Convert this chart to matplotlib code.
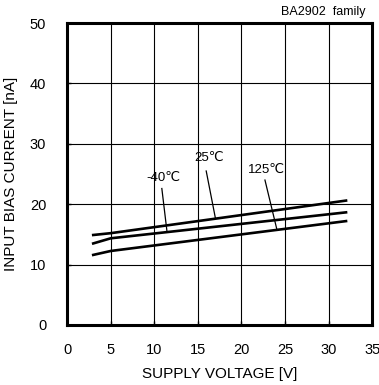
import numpy as np
from matplotlib import pyplot as plt

plt.rcParams['font.family'] = ['Liberation Sans', 'DejaVu Sans']

# supply voltage [V] vs input bias current [nA]
v_25 = [3, 5, 32]
i_25 = [14.9, 15.2, 20.6]
v_m40 = [3, 5, 32]
i_m40 = [13.5, 14.35, 18.65]
v_125 = [3, 5, 32]
i_125 = [11.6, 12.25, 17.2]

x_ticks = [0, 5, 10, 15, 20, 25, 30, 35]
y_ticks = [0, 10, 20, 30, 40, 50]

fig = plt.figure(figsize=(3.79, 3.85), dpi=100)
ax = fig.add_axes([0.177, 0.156, 0.805, 0.784])

ax.plot(v_25, i_25, color='black', lw=1.9)
ax.plot(v_m40, i_m40, color='black', lw=1.9)
ax.plot(v_125, i_125, color='black', lw=1.9)

# labels with leader lines
ax.text(11.0, 24.3, '-40℃', fontsize=9.5, ha='center', va='center')
ax.plot([10.87, 11.45], [22.6, 15.6], color='black', lw=0.9)
ax.text(16.3, 27.6, '25℃', fontsize=9.5, ha='center', va='center')
ax.plot([15.96, 17.0], [25.5, 17.8], color='black', lw=0.9)
ax.text(22.9, 25.7, '125℃', fontsize=9.5, ha='center', va='center')
ax.plot([22.7, 24.07], [24.0, 15.8], color='black', lw=0.9)

ax.set_xlim(0, 35)
ax.set_ylim(0, 50)
ax.set_xticks(x_ticks)
ax.set_yticks(y_ticks)
ax.grid(True, color='black', lw=0.8)
ax.tick_params(direction='in', length=3, width=1, labelsize=10.5)
ax.tick_params(axis='x', pad=13)
ax.tick_params(axis='y', pad=15)
for s in ax.spines.values():
    s.set_linewidth(2.2)

ax.set_xlabel('SUPPLY VOLTAGE [V]', fontsize=11)
ax.set_ylabel('INPUT BIAS CURRENT [nA]', fontsize=11)
ax.xaxis.set_label_coords(0.5, -0.14)
ax.yaxis.set_label_coords(-0.16, 0.5)
fig.text(0.965, 0.968, 'BA2902  family', fontsize=9, ha='right', va='center')

fig.savefig('out.png', dpi=100)
